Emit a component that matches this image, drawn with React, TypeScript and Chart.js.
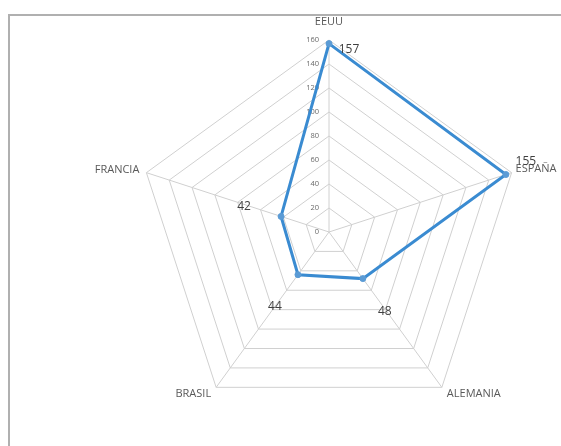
import React, { useEffect, useRef } from "react";
import { Chart, registerables } from "chart.js";

Chart.register(...registerables);

const categories = ["EEUU", "ESPAÑA", "ALEMANIA", "BRASIL", "FRANCIA"];
const values = [157, 155, 48, 44, 42];
const tickValues = [0, 20, 40, 60, 80, 100, 120, 140, 160];

// label offsets (px) relative to each plotted point
const labelOffsets: [number, number][] = [
  [20, 6],
  [20, -13],
  [22, 33],
  [-23, 32],
  [-37, -10],
];

const FONT = "'Open Sans', 'Liberation Sans', sans-serif";

const customPlugin = {
  id: "excelRadar",
  beforeDraw(chart: any) {
    const ctx = chart.ctx;
    ctx.save();
    ctx.strokeStyle = "#b0b0b0";
    ctx.lineWidth = 2;
    ctx.beginPath();
    ctx.moveTo(9, chart.height);
    ctx.lineTo(9, 15);
    ctx.lineTo(chart.width, 15);
    ctx.stroke();
    ctx.restore();
  },
  beforeDatasetsDraw(chart: any) {
    const scale = chart.scales.r;
    const ctx = chart.ctx;
    ctx.save();
    ctx.font = `7.5px ${FONT}`;
    ctx.fillStyle = "#6a6a6a";
    ctx.textAlign = "right";
    ctx.textBaseline = "middle";
    tickValues.forEach((v) => {
      const d = scale.getDistanceFromCenterForValue(v);
      ctx.fillText(String(v), scale.xCenter - 10, scale.yCenter - d);
    });
    // category labels
    ctx.font = `11px ${FONT}`;
    ctx.fillStyle = "#595959";
    const R = scale.drawingArea;
    categories.forEach((c, i) => {
      const p = scale.getPointPosition(i, R);
      let x = p.x, y = p.y;
      if (i === 0) {
        ctx.textAlign = "center";
        y -= 18;
      } else if (i === 1) {
        ctx.textAlign = "left";
        x += 4;
        y -= 4;
      } else if (i === 2) {
        ctx.textAlign = "left";
        x += 5;
        y += 7;
      } else if (i === 3) {
        ctx.textAlign = "right";
        x -= 5;
        y += 7;
      } else {
        ctx.textAlign = "right";
        x -= 7;
        y -= 3;
      }
      ctx.textBaseline = "middle";
      ctx.fillText(c, x, y);
    });
    ctx.restore();
  },
  afterDatasetsDraw(chart: any) {
    const meta = chart.getDatasetMeta(0);
    const ctx = chart.ctx;
    ctx.save();
    ctx.font = `12px ${FONT}`;
    ctx.fillStyle = "#404040";
    ctx.textAlign = "center";
    ctx.textBaseline = "middle";
    meta.data.forEach((el: any, i: number) => {
      const [dx, dy] = labelOffsets[i];
      ctx.fillText(String(values[i]), el.x + dx, el.y + dy);
    });
    ctx.restore();
  },
};

export default function App() {
  const ref = useRef<HTMLCanvasElement>(null);
  useEffect(() => {
    if (!ref.current) return;
    const chart = new Chart(ref.current, {
      type: "radar",
      data: {
        labels: categories,
        datasets: [
          {
            data: values,
            borderColor: "#3a8bd1",
            borderWidth: 3,
            backgroundColor: "transparent",
            fill: false,
            pointRadius: 3,
            pointBackgroundColor: "#5b9bd5",
            pointBorderColor: "#5b9bd5",
            pointBorderWidth: 1,
          },
        ],
      },
      options: {
        animation: false,
        responsive: false,
        maintainAspectRatio: false,
        layout: { padding: { left: 137, top: 40, right: 40, bottom: 22 } },
        plugins: { legend: { display: false }, tooltip: { enabled: false } },
        scales: {
          r: {
            min: 0,
            max: 160,
            ticks: { display: false, stepSize: 20 },
            pointLabels: { display: false },
            grid: { color: "#d0d0d0", lineWidth: 1 },
            angleLines: { color: "#d0d0d0", lineWidth: 1 },
          },
        },
      },
      plugins: [customPlugin],
    });
    return () => chart.destroy();
  }, []);
  return (
    <div style={{ position: "fixed", left: 0, top: 0, width: 561, height: 446, background: "#fff", overflow: "hidden" }}>
      <canvas ref={ref} width={561} height={446} style={{ display: "block", width: 561, height: 446 }} />
    </div>
  );
}
